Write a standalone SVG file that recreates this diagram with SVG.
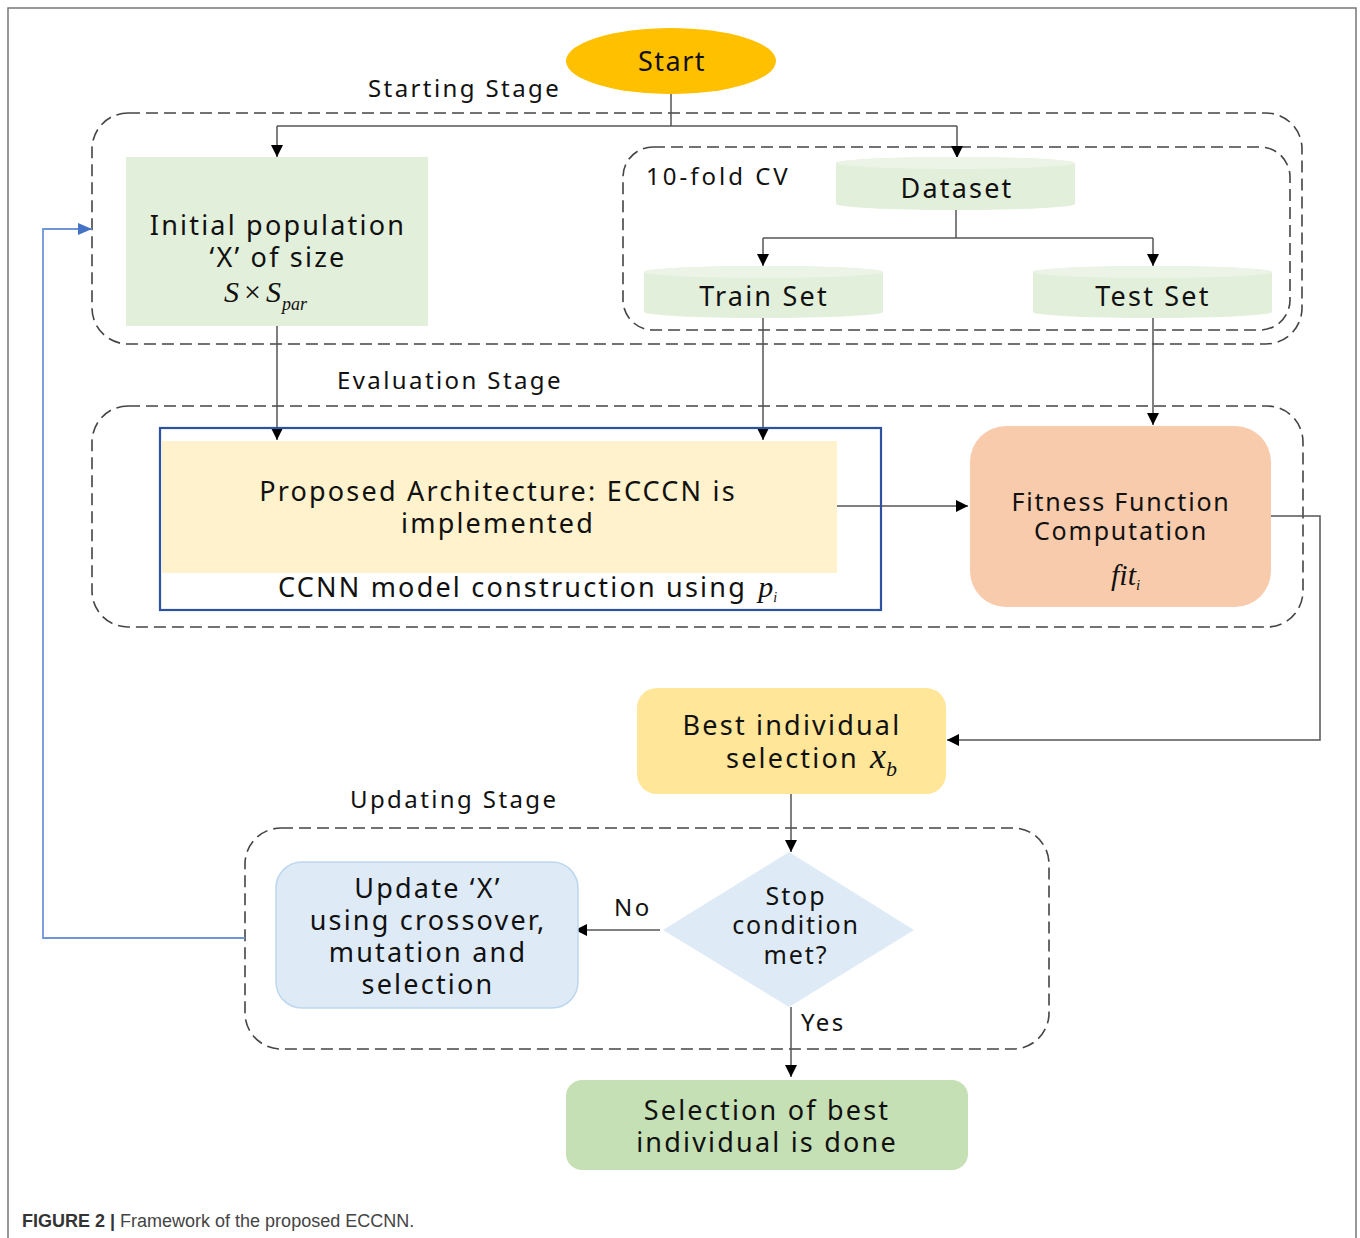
<svg xmlns="http://www.w3.org/2000/svg" width="1360" height="1238" viewBox="0 0 1360 1238">
<defs>
<marker id="ah" viewBox="0 0 10 10" refX="10" refY="5" markerWidth="12" markerHeight="12" markerUnits="userSpaceOnUse" orient="auto"><path d="M0,0 L10,5 L0,10 z" fill="#000"/></marker>
<marker id="ahb" viewBox="0 0 10 10" refX="10" refY="5" markerWidth="14" markerHeight="12" markerUnits="userSpaceOnUse" orient="auto" preserveAspectRatio="none"><path d="M0,0 L10,5 L0,10 z" fill="#4472C4"/></marker>
</defs>
<style>
text{font-family:"Noto Sans","Open Sans","DejaVu Sans",sans-serif;fill:#111;}
.t{font-size:27px;text-anchor:middle;letter-spacing:2.2px;}
.lbl{font-size:24px;letter-spacing:2.4px;}
.m{font-family:"Liberation Serif","Times New Roman",serif;font-style:italic;letter-spacing:0;}
.dash{fill:none;stroke:#444;stroke-width:1.6;stroke-dasharray:12 6;}
.ln{fill:none;stroke:#555;stroke-width:1.5;}
.cyl{fill:#E2EFDA;}
.cyltop{fill:#EBF4E6;}
</style>
<rect x="0" y="0" width="1360" height="1238" fill="#fff"/>
<rect x="8" y="8" width="1348" height="1260" fill="none" stroke="#777" stroke-width="1.5"/>

<g id="stage-boxes">
<rect class="dash" x="92" y="113" width="1210" height="231" rx="36"/>
<rect class="dash" x="623" y="147" width="667" height="183" rx="30"/>
<rect class="dash" x="92" y="406" width="1211" height="221" rx="36"/>
<rect class="dash" x="245" y="828" width="804" height="221" rx="36"/>
<text class="lbl" x="368" y="97">Starting Stage</text>
<text class="lbl" x="337" y="389">Evaluation Stage</text>
<text class="lbl" x="350" y="808">Updating Stage</text>
<text class="lbl" x="646" y="185" style="letter-spacing:3px">10-fold CV</text>
</g>

<g id="connectors">
<path class="ln" d="M671,94 V126 M277,126 H957"/>
<path class="ln" d="M277,126 V157" marker-end="url(#ah)"/>
<path class="ln" d="M957,126 V158" marker-end="url(#ah)"/>
<path class="ln" d="M956,210 V238 M763,238 H1153"/>
<path class="ln" d="M763,238 V266" marker-end="url(#ah)"/>
<path class="ln" d="M1153,238 V266" marker-end="url(#ah)"/>
<path class="ln" d="M277,326 V440" marker-end="url(#ah)"/>
<path class="ln" d="M763,318 V440" marker-end="url(#ah)"/>
<path class="ln" d="M1153,318 V425" marker-end="url(#ah)"/>
<path class="ln" d="M837,506 H968" marker-end="url(#ah)"/>
<path class="ln" d="M1271,516 H1320 V740 H947" marker-end="url(#ah)"/>
<path class="ln" d="M791,794 V852" marker-end="url(#ah)"/>
<path class="ln" d="M660,930 H575" marker-end="url(#ah)"/>
<path class="ln" d="M791,1007 V1077" marker-end="url(#ah)"/>
<path d="M245,938 H43 V229 H92" fill="none" stroke="#6F95D8" stroke-width="1.8" marker-end="url(#ahb)"/>
<text class="lbl" x="614" y="916">No</text>
<text class="lbl" x="801" y="1031">Yes</text>
</g>

<g id="start">
<ellipse cx="671" cy="61" rx="105" ry="33" fill="#FFC000"/>
<text class="t" x="672" y="71" style="letter-spacing:1.5px">Start</text>
</g>

<g id="initial-population">
<rect x="126" y="157" width="302" height="169" fill="#E2EFDA"/>
<text class="t" x="278" y="235">Initial population</text>
<text class="t" x="278" y="267">‘X’ of size</text>
<text class="m" x="224" y="302" font-size="30">S<tspan font-style="normal" dx="5">×</tspan><tspan dx="5">S</tspan><tspan font-size="18" dy="8" dx="1">par</tspan></text>
</g>

<g id="dataset">
<path class="cyl" d="M836,163 A119.5,6 0 0 1 1075,163 V204 A119.5,6 0 0 1 836,204 Z"/>
<ellipse class="cyltop" cx="955.5" cy="163" rx="119.5" ry="6"/>
<text class="t" x="957" y="198">Dataset</text>
</g>

<g id="train-set">
<path class="cyl" d="M644,272 A119.5,6 0 0 1 883,272 V312 A119.5,6 0 0 1 644,312 Z"/>
<ellipse class="cyltop" cx="763.5" cy="272" rx="119.5" ry="6"/>
<text class="t" x="764" y="306">Train Set</text>
</g>

<g id="test-set">
<path class="cyl" d="M1033,272 A119.5,6 0 0 1 1272,272 V312 A119.5,6 0 0 1 1033,312 Z"/>
<ellipse class="cyltop" cx="1152.5" cy="272" rx="119.5" ry="6"/>
<text class="t" x="1153" y="306">Test Set</text>
</g>

<g id="ccnn-construction">
<rect x="160" y="428" width="721" height="182" fill="none" stroke="#2F52A0" stroke-width="2.2"/>
<rect x="162" y="441" width="675" height="132" fill="#FFF2CC"/>
<text class="t" x="498" y="501">Proposed Architecture: ECCCN is</text>
<text class="t" x="498" y="533">implemented</text>
<text class="t" x="278" y="597" style="text-anchor:start">CCNN model construction using <tspan class="m" font-size="30" dx="2">p</tspan><tspan class="m" font-size="14" dy="5">i</tspan></text>
</g>

<g id="fitness">
<rect x="970" y="426" width="301" height="181" rx="36" fill="#F8CBAD"/>
<text class="t" x="1121" y="511" style="font-size:25px;letter-spacing:1.8px">Fitness Function</text>
<text class="t" x="1121" y="540" style="font-size:25px;letter-spacing:1.8px">Computation</text>
<text class="m" x="1111" y="585" font-size="30">fit<tspan font-size="15" dy="5">i</tspan></text>
</g>

<g id="best-individual">
<rect x="637" y="688" width="309" height="106" rx="20" fill="#FFE699"/>
<text class="t" x="792" y="735">Best individual</text>
<text class="t" x="726" y="768" style="text-anchor:start">selection <tspan class="m" font-size="36" dx="2">x</tspan><tspan class="m" font-size="22" dy="8">b</tspan></text>
</g>

<g id="stop-condition">
<path d="M789,852 L914,930 L789,1007 L663,930 Z" fill="#DEEBF7"/>
<text class="t" x="796" y="905" style="font-size:25px;letter-spacing:1.9px">Stop</text>
<text class="t" x="796" y="934" style="font-size:25px;letter-spacing:1.9px">condition</text>
<text class="t" x="796" y="964" style="font-size:25px;letter-spacing:1.9px">met?</text>
</g>

<g id="update">
<rect x="276" y="862" width="302" height="146" rx="26" fill="#DEEBF7" stroke="#BDD7EE" stroke-width="1.5"/>
<text class="t" x="428" y="898">Update ‘X’</text>
<text class="t" x="428" y="930">using crossover,</text>
<text class="t" x="428" y="962">mutation and</text>
<text class="t" x="428" y="994">selection</text>
</g>

<g id="final">
<rect x="566" y="1080" width="402" height="90" rx="16" fill="#C5E0B4"/>
<text class="t" x="767" y="1120">Selection of best</text>
<text class="t" x="767" y="1152">individual is done</text>
</g>

<g id="caption">
<text x="22" y="1227" style="font-family:'Liberation Sans',Arial,sans-serif;font-size:18px;fill:#444"><tspan font-weight="bold" fill="#333">FIGURE 2 |</tspan> Framework of the proposed ECCNN.</text>
</g>
</svg>
